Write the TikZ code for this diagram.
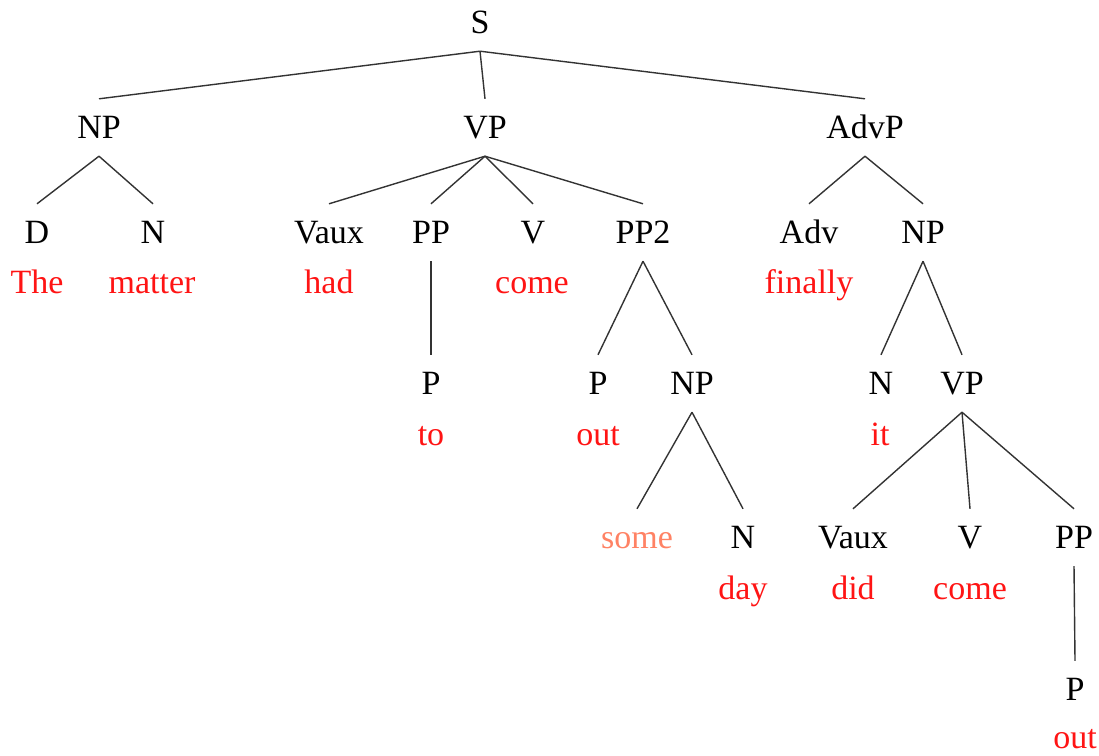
\documentclass[tikz,border=0pt]{standalone}
\usepackage{fontspec}
\setmainfont{Liberation Serif}
\usetikzlibrary{calc}
\definecolor{leafred}{RGB}{255,20,20}
\definecolor{somecol}{RGB}{255,130,100}
\begin{document}
\begin{tikzpicture}[x=1pt,y=-1pt,
  lab/.style={anchor=base,inner sep=0pt,text height=22pt,text depth=0pt,font=\fontsize{34}{40}\selectfont},
  cat/.style={lab,text=black},
  word/.style={lab,text=leafred},
  edge/.style={draw=black!80,line width=1.4pt}]
\useasboundingbox (0,0) rectangle (1099,755);
% categories
\node[cat] (S) at (480,33) {S};
\node[cat] (NP) at (99,138) {NP};
\node[cat] (VP) at (485,138) {VP};
\node[cat] (AdvP) at (865,138) {AdvP};
\node[cat] (D) at (37,243) {D};
\node[cat] (N) at (153,243) {N};
\node[cat] (Vaux) at (329,243) {Vaux};
\node[cat] (PP) at (431,243) {PP};
\node[cat] (V) at (533,243) {V};
\node[cat] (PPtwo) at (643,243) {PP2};
\node[cat] (Adv) at (809,243) {Adv};
\node[cat] (NPtwo) at (923,243) {NP};
\node[cat] (Pone) at (431,394) {P};
\node[cat] (Ptwo) at (598,394) {P};
\node[cat] (NPthree) at (692,394) {NP};
\node[cat] (Ntwo) at (881,394) {N};
\node[cat] (VPtwo) at (962,394) {VP};
\node[lab,text=somecol] (some) at (637,548) {some};
\node[cat] (Nthree) at (743,548) {N};
\node[cat] (Vauxtwo) at (853,548) {Vaux};
\node[cat] (Vtwo) at (970,548) {V};
\node[cat] (PPthree) at (1074,548) {PP};
\node[cat] (Pthree) at (1075,700) {P};
% words
\node[word] (wThe) at (37,293) {The};
\node[word] (wmatter) at (152,293) {matter};
\node[word] (whad) at (329,293) {had};
\node[word] (wcome) at (532,293) {come};
\node[word] (wfinally) at (809,293) {finally};
\node[word] (wto) at (431,445) {to};
\node[word] (wout) at (598,445) {out};
\node[word] (wit) at (880,445) {it};
\node[word] (wday) at (743,599) {day};
\node[word] (wdid) at (853,599) {did};
\node[word] (wcometwo) at (970,599) {come};
\node[word] (wouttwo) at (1075,748) {out};
% edges
\foreach \p/\c in {S/NP,S/VP,S/AdvP,NP/D,NP/N,VP/Vaux,VP/PP,VP/V,VP/PPtwo,AdvP/Adv,AdvP/NPtwo,
  PP/Pone,PPtwo/Ptwo,PPtwo/NPthree,NPtwo/Ntwo,NPtwo/VPtwo,NPthree/some,NPthree/Nthree,
  VPtwo/Vauxtwo,VPtwo/Vtwo,VPtwo/PPthree,PPthree/Pthree}
  \draw[edge] ($(\p.south)+(0,18)$) -- ($(\c.north)+(0,-17)$);
\end{tikzpicture}
\end{document}
